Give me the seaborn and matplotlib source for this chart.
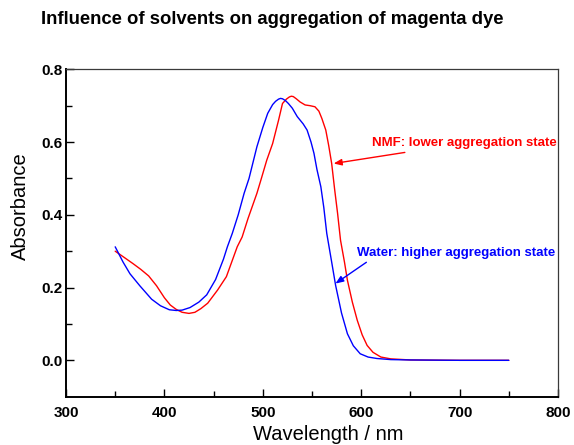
import matplotlib
matplotlib.use("Agg")
import matplotlib.pyplot as plt
from matplotlib import font_manager
import seaborn as sns
import pandas as pd

# ---- data ----
water_wl = [350, 358, 365, 375, 387, 396, 405, 412, 418, 426, 435, 443, 452, 460,
            464, 469, 475, 481, 486, 494, 500, 505, 510, 513, 516, 518, 520, 523,
            526, 530, 535, 541, 545, 549, 552, 555, 559, 562, 565, 570, 574, 580,
            586, 592, 599, 607, 616, 630, 650, 700, 750]
water_abs = [0.312, 0.270, 0.238, 0.205, 0.168, 0.150, 0.139, 0.137, 0.138, 0.145,
             0.160, 0.180, 0.222, 0.278, 0.312, 0.349, 0.400, 0.459, 0.500, 0.587,
             0.640, 0.679, 0.703, 0.712, 0.718, 0.720, 0.719, 0.714, 0.706, 0.693,
             0.670, 0.650, 0.633, 0.600, 0.569, 0.525, 0.477, 0.420, 0.349, 0.270,
             0.206, 0.130, 0.073, 0.040, 0.018, 0.009, 0.005, 0.002, 0.001, 0.000,
             0.000]

nmf_wl = [350, 358, 368, 376, 384, 392, 400, 406, 412, 418, 425, 431, 437, 444,
          454, 463, 474, 479, 485, 494, 498, 504, 510, 516, 520, 524, 527, 529,
          531, 534, 538, 543, 548, 553, 557, 560, 564, 567, 570, 573, 576, 579,
          583, 586, 591, 596, 601, 606, 612, 620, 630, 650, 700, 750]
nmf_abs = [0.300, 0.285, 0.266, 0.250, 0.232, 0.205, 0.172, 0.152, 0.140, 0.132,
           0.129, 0.132, 0.142, 0.157, 0.193, 0.230, 0.312, 0.339, 0.390, 0.459,
           0.495, 0.550, 0.596, 0.660, 0.706, 0.718, 0.724, 0.726, 0.725, 0.719,
           0.710, 0.702, 0.700, 0.697, 0.685, 0.665, 0.633, 0.590, 0.541, 0.470,
           0.404, 0.330, 0.270, 0.220, 0.160, 0.110, 0.070, 0.041, 0.022, 0.009,
           0.004, 0.001, 0.000, 0.000]

series_names = ["NMF", "Water"]
series_colors = ["#ff0000", "#0000ff"]
x_ticks = [300, 400, 500, 600, 700, 800]
y_ticks = [0.0, 0.2, 0.4, 0.6, 0.8]
title = "Influence of solvents on aggregation of magenta dye"
nmf_note = "NMF: lower aggregation state"
water_note = "Water: higher aggregation state"

df = pd.concat([
    pd.DataFrame({"Wavelength": nmf_wl, "Absorbance": nmf_abs, "Solvent": series_names[0]}),
    pd.DataFrame({"Wavelength": water_wl, "Absorbance": water_abs, "Solvent": series_names[1]}),
], ignore_index=True)

sns.set_style("ticks")
installed = {f.name for f in font_manager.fontManager.ttflist}
base = ["Liberation Sans", "DejaVu Sans"]
narrow = ["Liberation Sans Narrow"] if "Liberation Sans Narrow" in installed else []
plt.rcParams["font.family"] = base
plt.rcParams["text.color"] = "black"
plt.rcParams["axes.labelcolor"] = "black"
plt.rcParams["xtick.color"] = "black"
plt.rcParams["ytick.color"] = "black"

fig = plt.figure(figsize=(5.74, 4.45), dpi=100)
ax = fig.add_axes([66 / 574, 1 - 396.7 / 445, (558 - 66) / 574, (396.7 - 69.3) / 445])

sns.lineplot(data=df, x="Wavelength", y="Absorbance", hue="Solvent",
             palette=dict(zip(series_names, series_colors)), linewidth=1.0,
             legend=False, ax=ax, sort=False, estimator=None)

ax.set_xlim(300, 800)
ax.set_ylim(-0.1, 0.8)
ax.set_xticks(x_ticks)
ax.set_xticklabels([str(t) for t in x_ticks])
ax.set_xticks([350, 450, 550, 650, 750], minor=True)
ax.set_yticks(y_ticks)
ax.set_yticklabels([f"{t:.1f}" for t in y_ticks])
ax.set_yticks([0.1, 0.3, 0.5, 0.7], minor=True)
ax.tick_params(which="both", direction="in", color="black", labelcolor="black", width=1.0)
ax.tick_params(which="major", length=6)
ax.tick_params(which="minor", length=4)
ax.tick_params(axis="x", which="major", pad=6.5, labelsize=11)
ax.tick_params(axis="y", which="major", pad=2.5, labelsize=11)
for lab in ax.get_xticklabels() + ax.get_yticklabels():
    lab.set_fontweight("bold")

for s in ["left", "bottom"]:
    ax.spines[s].set_linewidth(1.4)
    ax.spines[s].set_color("black")
for s in ["top", "right"]:
    ax.spines[s].set_linewidth(0.9)
    ax.spines[s].set_color("#3a3a3a")

ax.set_xlabel("")
ax.set_ylabel("")
fig.text(328 / 574, 5.0 / 445, "Wavelength / nm", ha="center", va="baseline",
         fontsize=14.5, color="black")
fig.text(20 / 574, 1 - 206 / 445, "Absorbance", ha="center", va="center",
         rotation=90, fontsize=14.5, color="black")
fig.text(272 / 574, 1 - 20 / 445, title, ha="center", va="center",
         fontsize=13.3, fontweight="bold", color="black")

note_family = narrow + base
ax.annotate(nmf_note, xy=(572, 0.541), xytext=(611, 0.597), color="#ff0000",
            fontsize=11 if narrow else 9.5, fontweight="bold", family=note_family,
            ha="left", va="center",
            arrowprops=dict(arrowstyle="-|>,head_length=0.5,head_width=0.2",
                            color="#ff0000", lw=1.0, shrinkA=0, shrinkB=0))
ax.annotate(water_note, xy=(573.8, 0.211), xytext=(596, 0.295), color="#0000ff",
            fontsize=11 if narrow else 9.5, fontweight="bold", family=note_family,
            ha="left", va="center",
            arrowprops=dict(arrowstyle="-|>,head_length=0.5,head_width=0.2",
                            color="#0000ff", lw=1.0, shrinkA=0, shrinkB=0,
                            relpos=(0.07, 0.0)))

fig.savefig("out.png", dpi=100)
